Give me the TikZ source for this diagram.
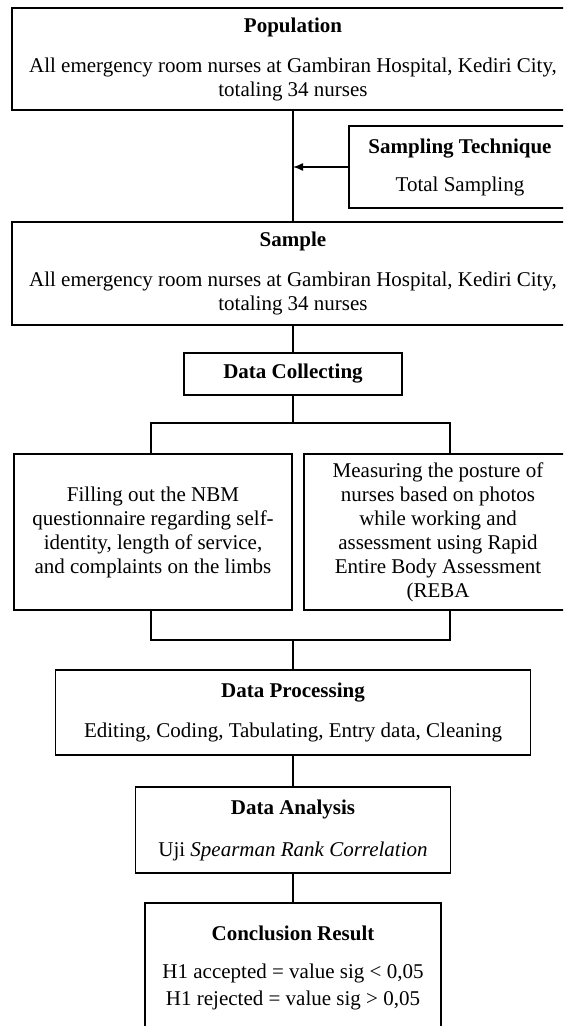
\documentclass[tikz,border=0pt]{standalone}
\usepackage{fontspec}
\setmainfont{Liberation Serif}
\usepackage{tikz}
\usetikzlibrary{arrows.meta}

\begin{document}
\begin{tikzpicture}[x=0.5pt,y=-0.5pt,
            box/.style={draw,line width=0.7pt,align=center,inner sep=0pt,
                        font=\fontsize{10.5}{12}\selectfont},
            link/.style={line width=0.7pt}]
            \clip (0,0) rectangle (563,1026);

            \node[box,minimum width=281pt,minimum height=51pt] (pop) at (293,59)
                {\textbf{Population}\\[8pt]All emergency room nurses at Gambiran Hospital, Kediri City,\\totaling 34 nurses};
            \node[box,minimum width=111pt,minimum height=41pt] (tech) at (460,167)
                {\textbf{Sampling Technique}\\[7pt]Total Sampling};
            \node[box,minimum width=281pt,minimum height=51.5pt] (sample) at (293,273.5)
                {\textbf{Sample}\\[8pt]All emergency room nurses at Gambiran Hospital, Kediri City,\\totaling 34 nurses};
            \node[box,minimum width=109pt,minimum height=21pt] (collect) at (293,374)
                {\textbf{Data Collecting}};
            \node[box,minimum width=139pt,minimum height=78pt] (nbm) at (153,532)
                {Filling out the NBM\\questionnaire regarding self-\\identity, length of service,\\and complaints on the limbs};
            \node[box,minimum width=134pt,minimum height=78pt] (reba) at (438,532)
                {Measuring the posture of\\nurses based on photos\\while working and\\assessment using Rapid\\Entire Body Assessment\\(REBA};
            \node[box,minimum width=237.5pt,minimum height=42.5pt] (process) at (293,712.5)
                {\textbf{Data Processing}\\[8pt]Editing, Coding, Tabulating, Entry data, Cleaning};
            \node[box,minimum width=157.5pt,minimum height=43pt] (analysis) at (293,830)
                {\textbf{Data Analysis}\\[9pt]Uji \textit{Spearman Rank Correlation}};
            \node[box,minimum width=148pt,minimum height=65pt] (result) at (293,968)
                {\textbf{Conclusion Result}\\[7pt]H1 accepted = value sig < 0,05\\[1.5pt]H1 rejected = value sig > 0,05};

            \coordinate (split) at (293,423);
            \coordinate (splitL) at (151,423);
            \coordinate (splitR) at (450,423);
            \coordinate (joinL) at (151,640);
            \coordinate (joinR) at (450,640);
            \coordinate (join) at (293,640);

            \draw[link] (pop) -- (sample);
            \draw[link,-{Latex[length=5pt,width=4pt]}] (tech.west) -- (pop.south |- tech.west);
            \draw[link] (sample) -- (collect);
            \draw[link] (collect) -- (split);
            \draw[link] (splitL |- nbm.north) -- (splitL) -- (splitR) -- (splitR |- reba.north);
            \draw[link] (joinL |- nbm.south) -- (joinL) -- (joinR) -- (joinR |- reba.south);
            \draw[link] (join) -- (process);
            \draw[link] (process) -- (analysis);
            \draw[link] (analysis) -- (result);
        \end{tikzpicture}
\end{document}
